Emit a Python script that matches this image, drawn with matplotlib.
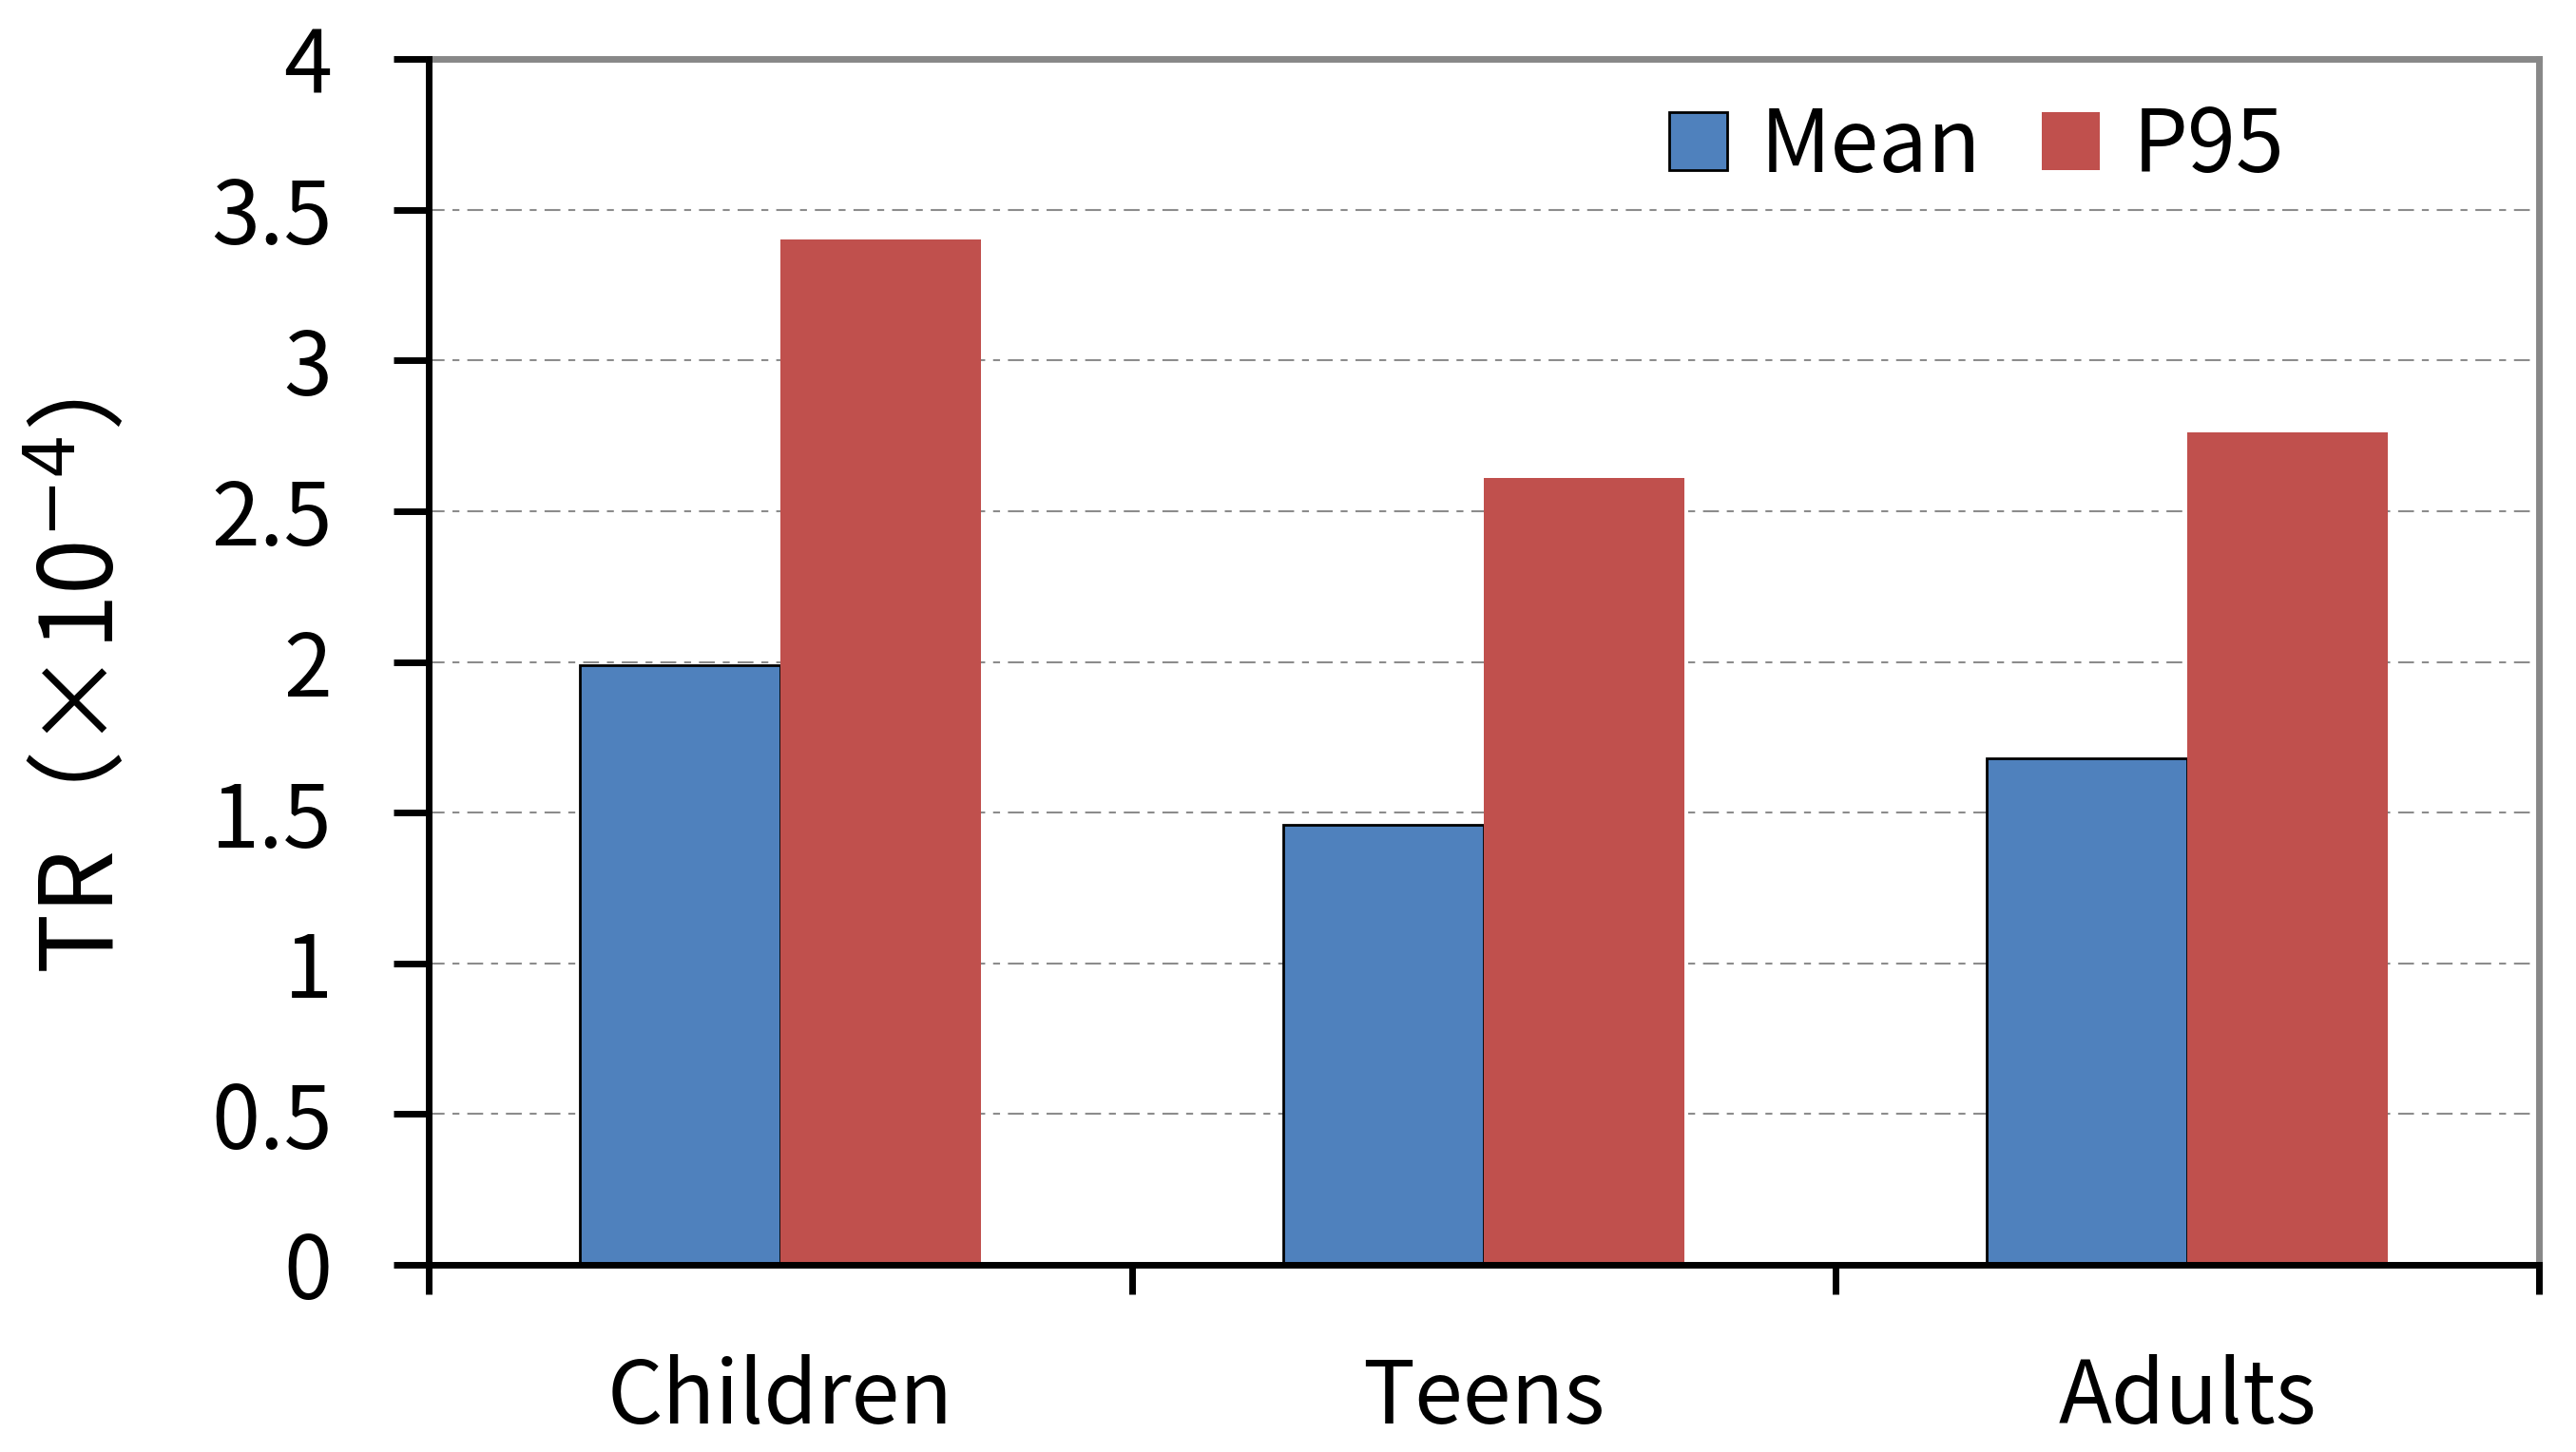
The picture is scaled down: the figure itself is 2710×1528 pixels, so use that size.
import numpy as np
import matplotlib
matplotlib.use("Agg")
import matplotlib.pyplot as plt
from matplotlib.patches import Patch

groups = ["Children", "Teens", "Adults"]
mean_vals = [1.99, 1.46, 1.68]
p95_vals = [3.40, 2.61, 2.76]
yticks = [0, 0.5, 1, 1.5, 2, 2.5, 3, 3.5, 4]
ytick_labels = ["0", "0.5", "1", "1.5", "2", "2.5", "3", "3.5", "4"]

blue = "#4F81BD"
red = "#C0504D"
fs = 66

plt.rcParams["font.family"] = ["Noto Sans CJK SC", "DejaVu Sans"]

fig = plt.figure(figsize=(27.1, 15.28), dpi=100)
ax = fig.add_axes([451/2710, 1 - 1331/1528, 2220/2710, 1269/1528])

x = np.arange(len(groups))
w = 0.285
ax.bar(x - w/2, mean_vals, w, color=blue, edgecolor="black", linewidth=2, zorder=3)
ax.bar(x + w/2, p95_vals, w, color=red, edgecolor="none", zorder=3)

ax.set_xlim(-0.5, 2.5)
ax.set_ylim(0, 4)

ax.set_yticks(yticks)
ax.set_yticklabels(ytick_labels, fontsize=fs)
ax.set_xticks(x)
ax.set_xticklabels(groups, fontsize=fs)
ax.set_xticks([-0.5, 0.5, 1.5, 2.5], minor=True)
ax.tick_params(axis="x", which="major", length=0, pad=68)
ax.tick_params(axis="x", which="minor", length=22, width=5, direction="out")
ax.tick_params(axis="y", length=27, width=5, direction="out", pad=46)

for yv in yticks[1:-1]:
    ax.axhline(yv, color="#8c8c8c", linewidth=1.5,
               linestyle=(0, (8, 4, 3.5, 4)), zorder=1)

for s in ["left", "bottom"]:
    ax.spines[s].set_linewidth(5)
    ax.spines[s].set_color("black")
    ax.spines[s].set_zorder(4)
for s in ["top", "right"]:
    ax.spines[s].set_linewidth(5)
    ax.spines[s].set_color("#888888")

fig.text(88/2710, 1 - 722/1528, "TR（×10$^{-4}$）", rotation=90,
         ha="center", va="center", fontsize=76)

handles = [Patch(facecolor=blue, edgecolor="black", linewidth=2, label="Mean"),
           Patch(facecolor=red, edgecolor="none", label="P95")]
ax.legend(handles=handles, loc="center left", bbox_to_anchor=(0.588, 0.927),
          ncol=2, frameon=False, fontsize=fs, borderpad=0, borderaxespad=0,
          handlelength=0.66, handleheight=0.66, handletextpad=0.38,
          columnspacing=0.7)

fig.savefig("out.png", dpi=100)
